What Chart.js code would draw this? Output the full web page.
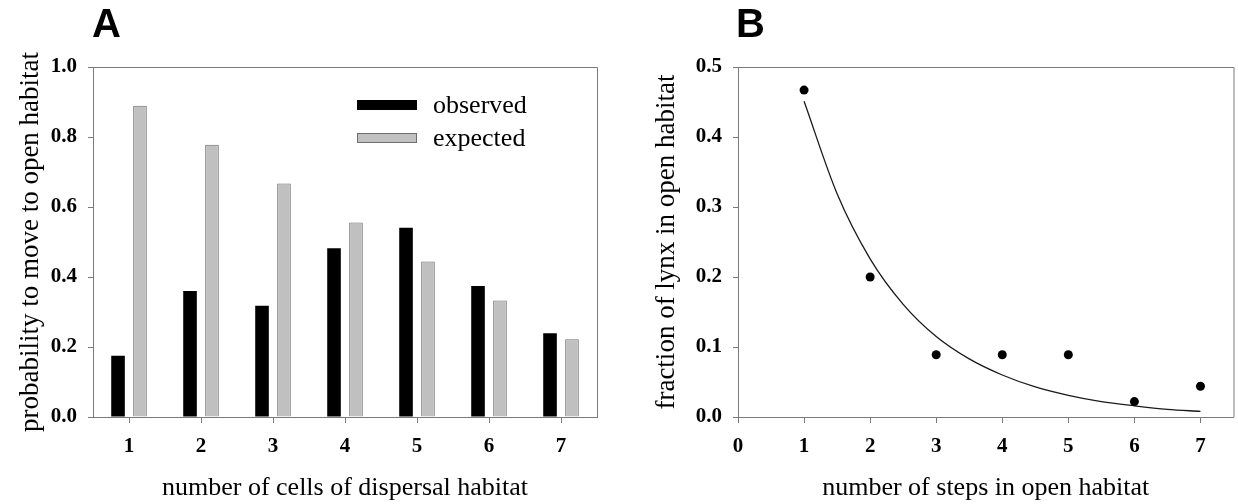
<!DOCTYPE html>
<html>
<head>
<meta charset="utf-8">
<script src="https://cdn.jsdelivr.net/npm/chart.js@4/dist/chart.umd.min.js"></script>
<style>
  body { margin: 0; background: #fff; width: 1238px; height: 504px; position: relative; overflow: hidden; }
  .wrap { position: absolute; top: 0; height: 504px; }
  .panel { position: absolute; top: 0; font: bold 40px "Liberation Sans", Arial, sans-serif; line-height: 1; }
</style>
</head>
<body>
<div class="wrap" style="left:0;width:620px"><canvas id="chartA" width="620" height="504"></canvas></div>
<div class="wrap" style="left:620px;width:618px"><canvas id="chartB" width="618" height="504"></canvas></div>
<div class="panel" style="left:92px;top:3px">A</div>
<div class="panel" style="left:736px;top:3px">B</div>
<script>
// panel A data
const cellLabels = ["1", "2", "3", "4", "5", "6", "7"];
const observed = [0.175, 0.36, 0.318, 0.482, 0.541, 0.374, 0.239];
const expected = [0.889, 0.778, 0.667, 0.556, 0.444, 0.333, 0.222];
const yTicksA = [0, 0.2, 0.4, 0.6, 0.8, 1.0];

// panel B data
const stepsX = [1, 2, 3, 4, 5, 6, 7];
const lynxFraction = [0.467, 0.2, 0.089, 0.089, 0.089, 0.022, 0.044];
// fitted curve
const curveX = [1, 1.5, 2, 2.5, 3, 3.5, 4, 4.5, 5, 5.5, 6, 6.5, 7];
const curveY = [0.451, 0.319, 0.226, 0.161, 0.115, 0.083, 0.06, 0.043, 0.031, 0.022, 0.016, 0.011, 0.008];
const xTicksB = [0, 1, 2, 3, 4, 5, 6, 7];
const yTicksB = [0, 0.1, 0.2, 0.3, 0.4, 0.5];

const SERIF = '"Liberation Serif", "Times New Roman", serif';
const AXIS_GRAY = "#7a7a7a";

Chart.defaults.animation = false;
Chart.defaults.font.family = SERIF;
Chart.defaults.color = "#000";

// box around the plot area
const framePlugin = {
  id: "frame",
  afterDraw(chart) {
    const a = chart.chartArea, ctx = chart.ctx;
    ctx.save();
    ctx.strokeStyle = AXIS_GRAY;
    ctx.lineWidth = 1;
    ctx.beginPath();
    ctx.moveTo(a.left, a.top + 0.5);
    ctx.lineTo(a.right + 0.5, a.top + 0.5);
    ctx.lineTo(a.right + 0.5, a.bottom);
    ctx.stroke();
    ctx.restore();
  }
};

// legend inside the plot, like the original
const insideLegend = {
  id: "insideLegend",
  afterDraw(chart) {
    const ctx = chart.ctx, a = chart.chartArea;
    ctx.save();
    ctx.font = "26px " + SERIF;
    ctx.textBaseline = "middle";
    chart.data.datasets.forEach((ds, i) => {
      const x = a.left + 264, y = a.top + 33 + i * 33;
      ctx.fillStyle = ds.backgroundColor;
      ctx.fillRect(x, y, 60, 10);
      if (ds.borderWidth) {
        ctx.strokeStyle = ds.borderColor;
        ctx.lineWidth = 1;
        ctx.strokeRect(x + 0.5, y + 0.5, 59, 9);
      }
      ctx.fillStyle = "#000";
      ctx.fillText(ds.label, x + 76, y + 6);
    });
    ctx.restore();
  }
};

function axisY(ticks, width, titleText, titlePad) {
  return {
    min: 0,
    max: ticks[ticks.length - 1],
    afterFit: (s) => { s.width = width; },
    afterBuildTicks: (s) => { s.ticks = ticks.map(v => ({ value: v })); },
    border: { display: true, color: AXIS_GRAY, width: 1 },
    grid: { drawOnChartArea: false, drawTicks: true, tickLength: 5, color: AXIS_GRAY },
    ticks: {
      padding: 11,
      font: { size: 21, weight: "bold" },
      callback: (v) => Number(v).toFixed(1)
    },
    title: { display: true, text: titleText, font: { size: 27 }, padding: { top: titlePad, bottom: 0 } }
  };
}

function axisXTitle(text) {
  return { display: true, text: text, font: { size: 26 }, padding: { top: 0, bottom: 0 } };
}

new Chart(document.getElementById("chartA"), {
  type: "bar",
  data: {
    labels: cellLabels,
    datasets: [
      { label: "observed", data: observed, backgroundColor: "#000000", borderWidth: 0 },
      { label: "expected", data: expected, backgroundColor: "#c0c0c0", borderColor: "#6e6e6e", borderWidth: 1 }
    ]
  },
  options: {
    responsive: false,
    categoryPercentage: 0.61,
    barPercentage: 0.62,
    layout: { padding: { top: 67, right: 23, bottom: 0, left: 0 } },
    plugins: { legend: { display: false }, tooltip: { enabled: false } },
    scales: {
      x: {
        afterFit: (s) => { s.height = 87; },
        border: { display: true, color: AXIS_GRAY, width: 1 },
        grid: { offset: false, drawOnChartArea: false, drawTicks: true, tickLength: 6, color: AXIS_GRAY },
        ticks: { padding: 11, font: { size: 21, weight: "bold" } },
        title: axisXTitle("number of cells of dispersal habitat")
      },
      y: axisY(yTicksA, 93, "probability to move to open habitat", 15)
    }
  },
  plugins: [framePlugin, insideLegend]
});

new Chart(document.getElementById("chartB"), {
  type: "scatter",
  data: {
    datasets: [
      {
        type: "scatter",
        label: "observed",
        data: stepsX.map((x, i) => ({ x: x, y: lynxFraction[i] })),
        pointRadius: 4.5,
        pointBackgroundColor: "#000",
        pointBorderWidth: 0
      },
      {
        type: "line",
        label: "fit",
        data: curveX.map((x, i) => ({ x: x, y: curveY[i] })),
        borderColor: "#1a1a1a",
        borderWidth: 1.3,
        pointRadius: 0,
        cubicInterpolationMode: "monotone",
        fill: false
      }
    ]
  },
  options: {
    responsive: false,
    layout: { padding: { top: 67, right: 1, bottom: 0, left: 0 } },
    plugins: { legend: { display: false }, tooltip: { enabled: false } },
    scales: {
      x: {
        type: "linear",
        min: 0,
        max: 7.5,
        afterFit: (s) => { s.height = 87; },
        afterBuildTicks: (s) => { s.ticks = xTicksB.map(v => ({ value: v })); },
        border: { display: true, color: AXIS_GRAY, width: 1 },
        grid: { drawOnChartArea: false, drawTicks: true, tickLength: 6, color: AXIS_GRAY },
        ticks: { padding: 11, font: { size: 21, weight: "bold" } },
        title: axisXTitle("number of steps in open habitat")
      },
      y: axisY(yTicksB, 118, "fraction of lynx in open habitat", 31)
    }
  },
  plugins: [framePlugin]
});
</script>
</body>
</html>
